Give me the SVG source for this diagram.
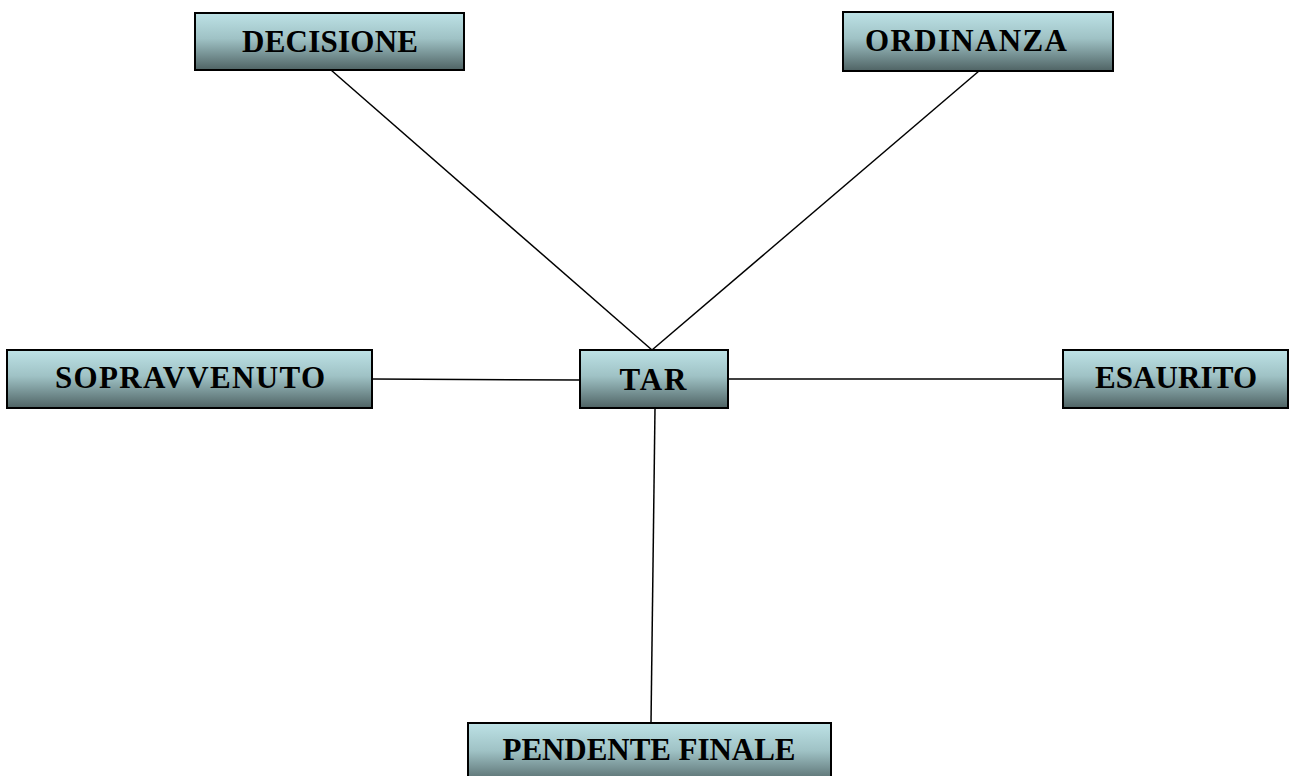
<svg xmlns="http://www.w3.org/2000/svg" width="1290" height="776" viewBox="0 0 1290 776">
<style>
.box{fill:url(#g);stroke:#000;stroke-width:2}
.lbl{font-family:"Liberation Serif",serif;font-weight:bold;font-size:31px;fill:#000;text-anchor:middle}
.con{stroke:#000;stroke-width:1.5;fill:none}
</style>
<defs>
<linearGradient id="g" x1="0" y1="0" x2="0" y2="1">
<stop offset="0" stop-color="#bde2e6"/>
<stop offset="0.45" stop-color="#9fc2c5"/>
<stop offset="1" stop-color="#4f6364"/>
</linearGradient>
</defs>
<rect width="1290" height="776" fill="#fff"/>
<g id="connectors">
<line class="con" x1="331" y1="70" x2="652" y2="350"/>
<line class="con" x1="979" y1="71" x2="652" y2="350"/>
<line class="con" x1="372" y1="379" x2="580" y2="380"/>
<line class="con" x1="728" y1="379" x2="1063" y2="379"/>
<line class="con" x1="655" y1="408" x2="651" y2="723"/>
</g>
<g id="decisione"><rect class="box" x="195" y="13" width="269" height="57"/><text class="lbl" x="330" y="52" textLength="176">DECISIONE</text></g>
<g id="ordinanza"><rect class="box" x="843" y="12" width="270" height="59"/><text class="lbl" x="966" y="51" textLength="202">ORDINANZA</text></g>
<g id="tar"><rect class="box" x="580" y="350" width="148" height="58"/><text class="lbl" x="653" y="390" textLength="67">TAR</text></g>
<g id="sopravvenuto"><rect class="box" x="7" y="350" width="365" height="58"/><text class="lbl" x="190" y="388" textLength="270">SOPRAVVENUTO</text></g>
<g id="esaurito"><rect class="box" x="1063" y="350" width="225" height="58"/><text class="lbl" x="1176" y="388" textLength="162">ESAURITO</text></g>
<g id="pendente"><rect class="box" x="468" y="723" width="363" height="62"/><text class="lbl" x="649" y="760" textLength="293">PENDENTE FINALE</text></g>
</svg>
